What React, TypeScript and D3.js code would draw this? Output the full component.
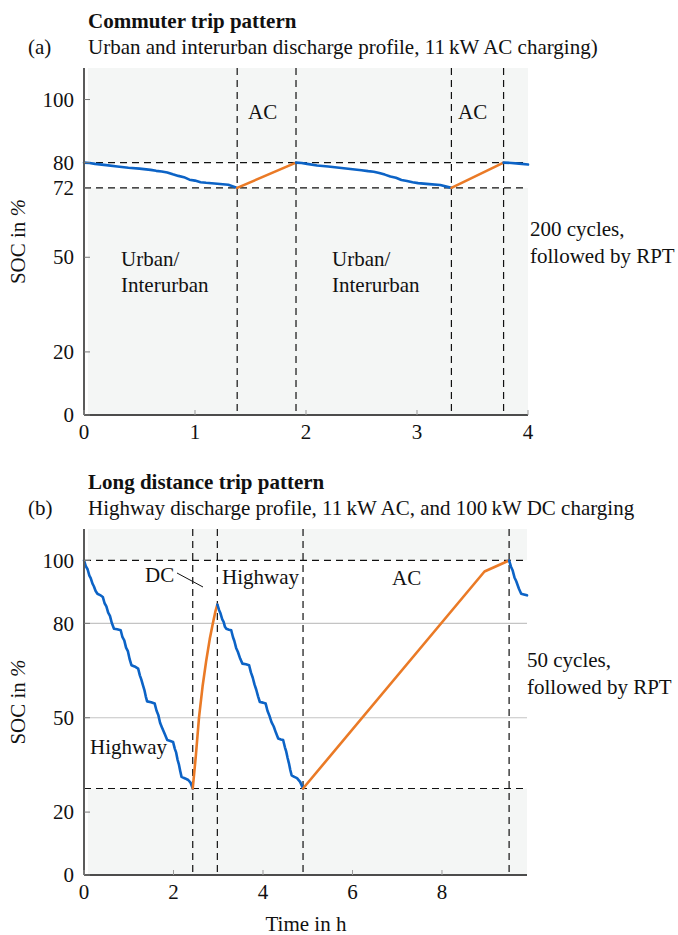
import React from "react";
import * as d3 from "d3";

// ---------- Data: (a) commuter trip pattern ----------
const commuteTicksY = [0, 20, 50, 72, 80, 100];
const commuteTicksX = [0, 1, 2, 3, 4];
const commuteRefY = [72, 80];
const commuteRefX = [1.38, 1.91, 3.31, 3.78];

const commuteDrive1T = [0, 0.05, 0.1, 0.2, 0.3, 0.4, 0.5, 0.6, 0.65, 0.7, 0.75, 0.8, 0.85, 0.9, 0.95, 1.0, 1.05, 1.1, 1.2, 1.3, 1.38];
const commuteDrive1V = [80, 79.9, 79.6, 79.2, 78.8, 78.4, 78.1, 77.7, 77.4, 77.2, 76.9, 76.3, 75.8, 75.4, 74.6, 74.3, 73.8, 73.6, 73.3, 73.0, 72.0];
const commuteCharge1T = [1.38, 1.91];
const commuteCharge1V = [72, 80];
const commuteDrive2T = [1.91, 1.96, 2.01, 2.1, 2.2, 2.3, 2.4, 2.5, 2.56, 2.61, 2.66, 2.71, 2.76, 2.81, 2.86, 2.91, 2.96, 3.01, 3.11, 3.21, 3.31];
const commuteDrive2V = [80, 79.9, 79.6, 79.1, 78.8, 78.4, 78.0, 77.6, 77.3, 77.1, 76.7, 76.2, 75.6, 75.2, 74.5, 74.2, 73.8, 73.5, 73.2, 72.9, 72.0];
const commuteCharge2T = [3.31, 3.78];
const commuteCharge2V = [72, 80];
const commuteDrive3T = [3.78, 3.85, 3.92, 4.0];
const commuteDrive3V = [80, 79.9, 79.7, 79.4];

// ---------- Data: (b) long distance trip pattern ----------
const longTicksY = [0, 20, 50, 80, 100];
const longTicksX = [0, 2, 4, 6, 8];
const longRefY = [27.5, 100];
const longRefX = [2.43, 2.98, 4.895, 9.5];

const highway1T = [0, 0.04, 0.08, 0.12, 0.15, 0.19, 0.22, 0.26, 0.30, 0.36, 0.42, 0.46, 0.5, 0.54, 0.58, 0.62, 0.67, 0.74, 0.82, 0.86, 0.9, 0.94, 0.98, 1.02, 1.06, 1.13, 1.21, 1.25, 1.28, 1.32, 1.35, 1.38, 1.41, 1.5, 1.58, 1.62, 1.66, 1.7, 1.74, 1.8, 1.86, 1.93, 1.99, 2.03, 2.06, 2.09, 2.12, 2.15, 2.18, 2.26, 2.33, 2.38, 2.43];
const highway1V = [100, 98.2, 97.2, 95.2, 94.4, 92.6, 91.8, 90.3, 89.4, 89.0, 88.4, 86.4, 85.4, 83.4, 82.4, 80.2, 78.3, 78.1, 77.8, 75.6, 74.6, 72.3, 71.2, 68.6, 66.7, 66.3, 65.6, 63.4, 62.2, 60.2, 58.8, 56.8, 55.2, 54.9, 54.5, 52.3, 50.9, 48.4, 47.0, 45.0, 42.9, 42.6, 42.3, 40.1, 38.9, 36.7, 35.2, 33.1, 31.2, 30.7, 30.2, 29.4, 27.5];
const dcChargeT = [2.43, 2.5, 2.57, 2.65, 2.73, 2.81, 2.88, 2.94, 2.98];
const dcChargeV = [27.5, 38, 50, 60, 68, 75, 80, 84, 86];
const highway2T = [2.98, 3.02, 3.05, 3.09, 3.12, 3.15, 3.18, 3.24, 3.29, 3.33, 3.36, 3.4, 3.44, 3.49, 3.54, 3.62, 3.69, 3.73, 3.77, 3.81, 3.85, 3.89, 3.93, 4.0, 4.06, 4.1, 4.14, 4.19, 4.24, 4.29, 4.34, 4.4, 4.45, 4.49, 4.52, 4.55, 4.58, 4.61, 4.64, 4.7, 4.76, 4.83, 4.895];
const highway2V = [86, 84.2, 83.2, 81.3, 80.5, 78.9, 78.3, 78.0, 77.8, 75.6, 74.4, 72.2, 70.9, 68.8, 67.2, 67.0, 66.7, 64.4, 62.8, 60.6, 58.9, 56.8, 55.0, 54.8, 54.5, 52.2, 50.8, 48.6, 47.2, 45.2, 43.4, 43.1, 42.9, 40.6, 39.2, 37.2, 35.5, 33.4, 31.7, 31.2, 30.8, 29.6, 27.5];
const acChargeT = [4.895, 8.95, 9.5];
const acChargeV = [27.5, 96.5, 100];
const highway3T = [9.5, 9.54, 9.58, 9.62, 9.66, 9.72, 9.77, 9.83, 9.9];
const highway3V = [100, 98.1, 96.8, 94.6, 93.4, 91.0, 89.4, 89.2, 88.9];

const BLUE = "#0c63c6";
const ORANGE = "#ea7a26";
const BG = "#f4f6f5";
const FONT = "'Liberation Serif', 'DejaVu Serif', serif";
const FS = 21;

type Series = { t: number[]; v: number[]; color: string };
type Label = { x: number; y: number; text: string };

type PanelProps = {
  left: number;
  right: number;
  top: number;
  bottom: number;
  xMax: number;
  xTicks: number[];
  yTicks: number[];
  refY: number[];
  refX: number[];
  series: Series[];
  labels: Label[];
  grid: boolean;
  children?: React.ReactNode;
};

function Panel(p: PanelProps) {
  const x = d3.scaleLinear().domain([0, p.xMax]).range([p.left, p.right]);
  const y = d3.scaleLinear().domain([0, 110]).range([p.bottom, p.top]);
  const line = d3
    .line<[number, number]>()
    .x((d) => x(d[0]))
    .y((d) => y(d[1]));
  const [bandLo, bandHi] = p.refY;
  const bgLeft = p.left + 4;
  return (
    <g>
      <rect x={bgLeft} y={p.top} width={p.right - bgLeft} height={p.bottom - p.top - 1} fill={BG} />
      <rect x={bgLeft} y={y(bandHi)} width={p.right - bgLeft} height={y(bandLo) - y(bandHi)} fill="#ffffff" />
      {p.grid &&
        p.yTicks
          .filter((t) => t > bandLo && t < bandHi)
          .map((t) => (
            <line key={"g" + t} x1={p.left} x2={p.right} y1={y(t)} y2={y(t)} stroke="#c4c4c4" strokeWidth={1.2} />
          ))}
      {p.refY.map((v) => (
        <line key={"ry" + v} x1={p.left} x2={p.right} y1={y(v)} y2={y(v)} stroke="#111" strokeWidth={1.2} strokeDasharray="7,5" />
      ))}
      {p.refX.map((v) => (
        <line key={"rx" + v} x1={x(v)} x2={x(v)} y1={p.top} y2={p.bottom} stroke="#111" strokeWidth={1.2} strokeDasharray="7,5" />
      ))}
      {p.series.map((s, i) => (
        <path
          key={"s" + i}
          d={line(s.t.map((t, j) => [t, s.v[j]] as [number, number])) || ""}
          fill="none"
          stroke={s.color}
          strokeWidth={2.6}
          strokeLinejoin="round"
          strokeLinecap="round"
        />
      ))}
      <line x1={p.left} x2={p.left} y1={p.top} y2={p.bottom} stroke="#5a5a5a" strokeWidth={2} />
      <line x1={p.left} x2={p.right} y1={p.bottom} y2={p.bottom} stroke="#111" strokeWidth={1.6} />
      {p.yTicks.map((t) => (
        <g key={"yt" + t}>
          <line x1={p.left} x2={p.left + 6} y1={y(t)} y2={y(t)} stroke="#777" strokeWidth={1} />
          <text x={p.left - 10} y={y(t)} dy="0.34em" textAnchor="end" fontSize={FS} fontFamily={FONT} fill="#111">
            {t}
          </text>
        </g>
      ))}
      {p.xTicks.map((t) => (
        <g key={"xt" + t}>
          <line x1={x(t)} x2={x(t)} y1={p.bottom} y2={p.bottom - 5} stroke="#999" strokeWidth={1} />
          <text x={x(t)} y={p.bottom + 24} textAnchor="middle" fontSize={FS} fontFamily={FONT} fill="#111">
            {t}
          </text>
        </g>
      ))}
      {p.labels.map((l, i) => (
        <text key={"l" + i} x={l.x} y={l.y} fontSize={FS} fontFamily={FONT} fill="#111">
          {l.text}
        </text>
      ))}
      <text
        transform={`translate(${25},${(p.top + p.bottom) / 2}) rotate(-90)`}
        textAnchor="middle"
        fontSize={FS}
        fontFamily={FONT}
        fill="#111"
      >
        SOC in <tspan fontStyle="italic">%</tspan>
      </text>
      {p.children}
    </g>
  );
}

export default function App() {
  const topSeries: Series[] = [
    { t: commuteDrive1T, v: commuteDrive1V, color: BLUE },
    { t: commuteCharge1T, v: commuteCharge1V, color: ORANGE },
    { t: commuteDrive2T, v: commuteDrive2V, color: BLUE },
    { t: commuteCharge2T, v: commuteCharge2V, color: ORANGE },
    { t: commuteDrive3T, v: commuteDrive3V, color: BLUE },
  ];
  const botSeries: Series[] = [
    { t: highway1T, v: highway1V, color: BLUE },
    { t: dcChargeT, v: dcChargeV, color: ORANGE },
    { t: highway2T, v: highway2V, color: BLUE },
    { t: acChargeT, v: acChargeV, color: ORANGE },
    { t: highway3T, v: highway3V, color: BLUE },
  ];
  return (
    <div style={{ position: "absolute", left: 0, top: 0 }}>
      <svg width={678} height={935} style={{ display: "block", background: "#fff" }}>
        <text x={88} y={28} fontSize={FS} fontWeight="bold" fontFamily={FONT} fill="#111">
          Commuter trip pattern
        </text>
        <text x={28} y={54} fontSize={FS} fontFamily={FONT} fill="#111">(a)</text>
        <text x={88} y={54} fontSize={FS} fontFamily={FONT} fill="#111">
          Urban and interurban discharge profile, 11{"\u2009"}kW AC charging)
        </text>
        <Panel
          left={84}
          right={528}
          top={68}
          bottom={415}
          xMax={4}
          xTicks={commuteTicksX}
          yTicks={commuteTicksY}
          refY={commuteRefY}
          refX={commuteRefX}
          series={topSeries}
          grid={false}
          labels={[
            { x: 248, y: 119, text: "AC" },
            { x: 458, y: 119, text: "AC" },
            { x: 121, y: 266, text: "Urban/" },
            { x: 121, y: 292, text: "Interurban" },
            { x: 332, y: 266, text: "Urban/" },
            { x: 332, y: 292, text: "Interurban" },
            { x: 530, y: 236, text: "200 cycles," },
            { x: 530, y: 263, text: "followed by RPT" },
          ]}
        />
        <text x={88} y={489} fontSize={FS} fontWeight="bold" fontFamily={FONT} fill="#111">
          Long distance trip pattern
        </text>
        <text x={28} y={515} fontSize={FS} fontFamily={FONT} fill="#111">(b)</text>
        <text x={88} y={515} fontSize={FS} fontFamily={FONT} fill="#111">
          Highway discharge profile, 11{"\u2009"}kW AC, and 100{"\u2009"}kW DC charging
        </text>
        <Panel
          left={84}
          right={527}
          top={529}
          bottom={875}
          xMax={9.9}
          xTicks={longTicksX}
          yTicks={longTicksY}
          refY={longRefY}
          refX={longRefX}
          series={botSeries}
          grid={true}
          labels={[
            { x: 145, y: 582, text: "DC" },
            { x: 222, y: 584, text: "Highway" },
            { x: 392, y: 585, text: "AC" },
            { x: 90, y: 754, text: "Highway" },
            { x: 527, y: 667, text: "50 cycles," },
            { x: 527, y: 694, text: "followed by RPT" },
          ]}
        >
          <line x1={177} y1={573} x2={203} y2={587} stroke="#111" strokeWidth={1} />
        </Panel>
        <text x={306} y={931} textAnchor="middle" fontSize={FS} fontFamily={FONT} fill="#111">
          Time in h
        </text>
      </svg>
    </div>
  );
}
